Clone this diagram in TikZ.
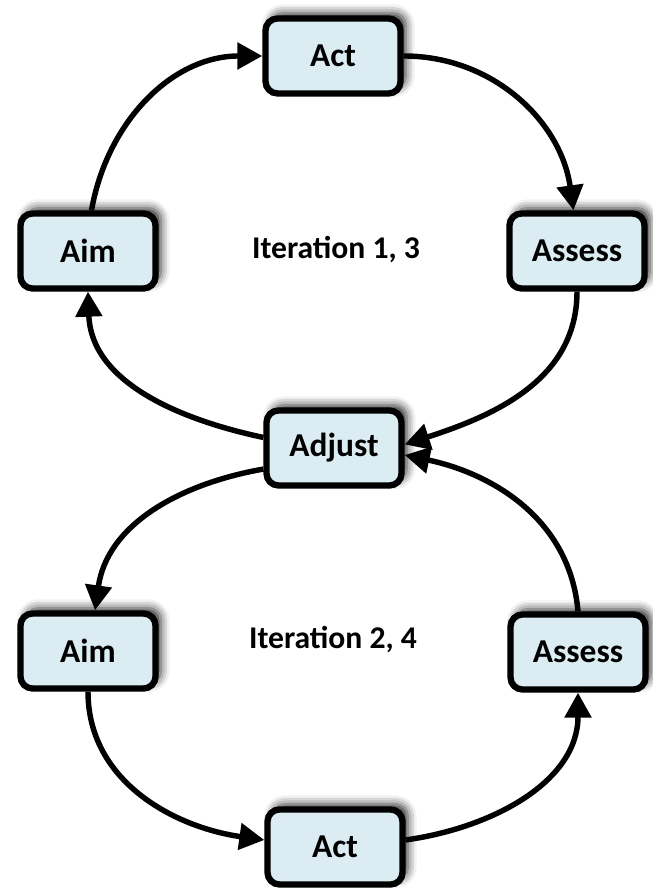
\documentclass[tikz,border=0pt]{standalone}
\usepackage{fontspec}
\setmainfont{Carlito}
\usetikzlibrary{arrows.meta,shadows.blur}
\definecolor{boxfill}{RGB}{219,237,243}
\begin{document}
\begin{tikzpicture}[x=0.02cm,y=0.02cm,
  stepbox/.style={draw=black, line width=3.6pt, fill=boxfill, rounded corners=0.24cm,
    minimum width=2.7cm, minimum height=1.5cm, font=\fontsize{19}{21}\selectfont\bfseries,
    blur shadow={shadow xshift=3pt, shadow yshift=3pt, shadow blur radius=5pt, shadow opacity=85}},
  lbl/.style={font=\fontsize{18}{20}\selectfont\bfseries},
  conn/.style={line width=3.1pt, -{Triangle[length=0.5cm,width=0.52cm]}}
]
\useasboundingbox (0,0) rectangle (652,888);
\node[stepbox] (ActT) at (333,832) {Act};
\node[stepbox] (AimT) at (88,637) {Aim};
\node[stepbox] (AssT) at (577,637) {Assess};
\node[stepbox] (Adj)  at (334,440) {Adjust};
\node[stepbox] (AimB) at (88,237) {Aim};
\node[stepbox] (AssB) at (578,236) {Assess};
\node[stepbox] (ActB) at (335,41) {Act};
\node[lbl] (L1) at (336,638) {Iteration 1, 3};
\node[lbl] (L2) at (333,248) {Iteration 2, 4};
% top loop
\draw[conn] ([xshift=2]AimT.north) to[out=80,in=180] (ActT.west);
\draw[conn] (ActT.east) to[out=0,in=98] ([xshift=-2]AssT.north);
\draw[conn] (AssT.south) to[out=-90,in=18] ([yshift=2]Adj.east);
\draw[conn] ([yshift=6]Adj.west) to[out=168,in=-88] (AimT.south);
% bottom loop
\draw[conn] ([yshift=-12]Adj.west) to[out=190,in=82] ([xshift=4]AimB.north);
\draw[conn] (AimB.south) to[out=-90,in=172] ([yshift=4]ActB.west);
\draw[conn] ([yshift=4]ActB.east) to[out=8,in=-90] (AssB.south);
\draw[conn] (AssB.north) to[out=95,in=-12] ([yshift=-4]Adj.east);
\end{tikzpicture}
\end{document}
